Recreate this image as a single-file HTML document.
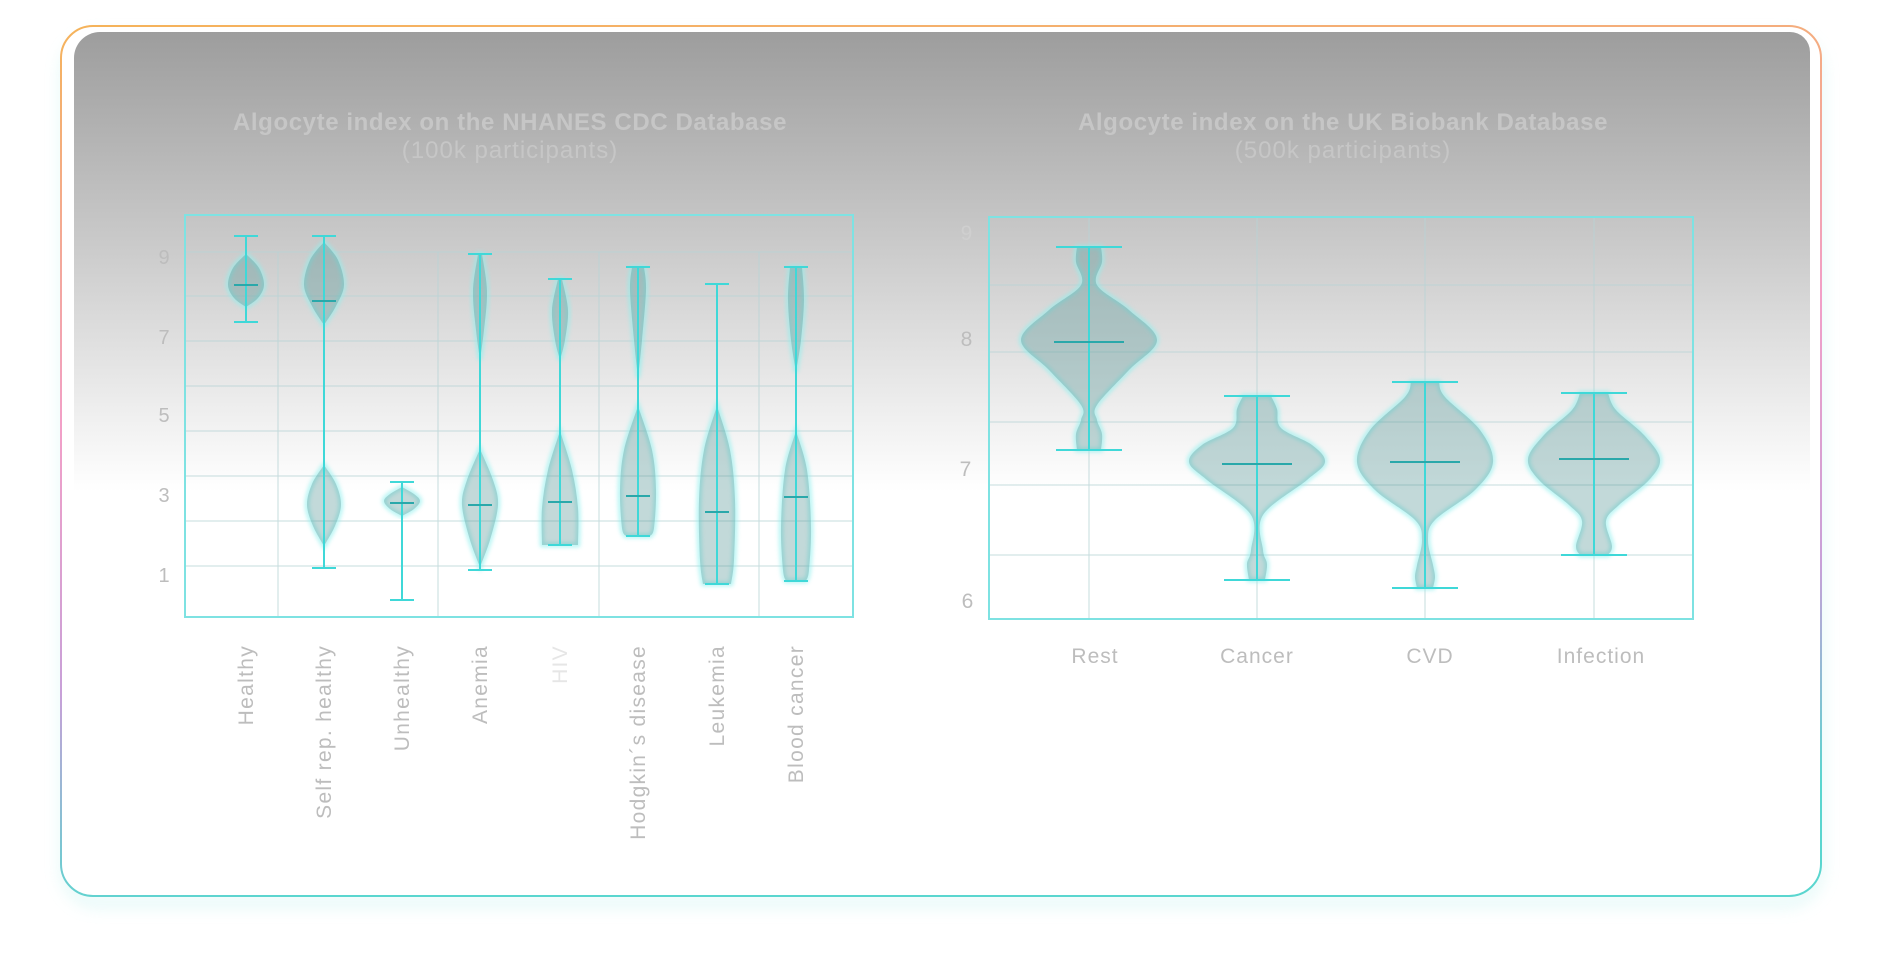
<!DOCTYPE html>
<html><head><meta charset="utf-8">
<style>
html,body{margin:0;padding:0;background:#fff;}
body{width:1884px;height:972px;position:relative;overflow:hidden;font-family:"Liberation Sans",sans-serif;}
svg{position:absolute;left:0;top:0;}
</style></head>
<body>
<svg width="1884" height="972" viewBox="0 0 1884 972" xmlns="http://www.w3.org/2000/svg">
<defs>
<linearGradient id="bg" x1="0" y1="0" x2="0" y2="1">
<stop offset="0" stop-color="#9d9d9d"/><stop offset="0.45" stop-color="#c9c9c9"/><stop offset="0.8" stop-color="#ececec"/><stop offset="1" stop-color="#ffffff"/>
</linearGradient>
<linearGradient id="bd" x1="0" y1="0" x2="0.15" y2="1">
<stop offset="0" stop-color="#f5b35a"/><stop offset="0.45" stop-color="#f2a0c8"/><stop offset="0.75" stop-color="#c8a0d8"/><stop offset="1" stop-color="#5ad6cf"/>
</linearGradient>
<filter id="glow" x="-30%" y="-10%" width="160%" height="120%"><feGaussianBlur stdDeviation="2"/></filter>
<filter id="sh" x="-5%" y="-5%" width="110%" height="115%"><feGaussianBlur stdDeviation="8"/></filter>
</defs>
<rect x="66" y="40" width="1752" height="862" rx="32" fill="none" stroke="#bff2ee" stroke-width="8" filter="url(#sh)" opacity="0.6"/>
<rect x="61" y="26" width="1760" height="870" rx="32" fill="#fff" stroke="url(#bd)" stroke-width="2"/>
<path d="M100,32 H1790 a20,20 0 0 1 20,20 V492 H74 V58 a26,26 0 0 1 26,-26 Z" fill="url(#bg)"/>

<g font-family="Liberation Sans, sans-serif" font-weight="bold" font-size="24" fill="#c6c6c6" text-anchor="middle" letter-spacing="0.6">
<text x="510" y="130">Algocyte index on the NHANES CDC Database</text>
<text x="510" y="158" font-weight="normal" letter-spacing="1">(100k participants)</text>
<text x="1343" y="130">Algocyte index on the UK Biobank Database</text>
<text x="1343" y="158" font-weight="normal" letter-spacing="1">(500k participants)</text>
</g>

<!-- left chart grid -->
<g stroke="#b8d4d6" stroke-width="1" opacity="0.8">
<line x1="185" y1="252" x2="853" y2="252"/><line x1="185" y1="296" x2="853" y2="296"/>
<line x1="185" y1="341" x2="853" y2="341"/><line x1="185" y1="386" x2="853" y2="386"/>
<line x1="185" y1="431" x2="853" y2="431"/><line x1="185" y1="476" x2="853" y2="476"/>
<line x1="185" y1="521" x2="853" y2="521"/><line x1="185" y1="566" x2="853" y2="566"/>
<line x1="278" y1="252" x2="278" y2="617"/><line x1="438" y1="252" x2="438" y2="617"/>
<line x1="599" y1="252" x2="599" y2="617"/><line x1="759" y1="252" x2="759" y2="617"/>
</g>
<rect x="185" y="215" width="668" height="402" fill="none" stroke="#7ee2e2" stroke-width="2"/>
<g font-size="20" fill="#bdbdbd" text-anchor="middle">
<text x="164" y="264">9</text><text x="164" y="344">7</text><text x="164" y="422">5</text><text x="164" y="502">3</text><text x="164" y="582">1</text>
</g>
<g font-size="21" fill="#bdbdbd" text-anchor="end" letter-spacing="1.3">
<text transform="translate(253,645) rotate(-90)">Healthy</text>
<text transform="translate(331,645) rotate(-90)">Self rep. healthy</text>
<text transform="translate(409,645) rotate(-90)">Unhealthy</text>
<text transform="translate(487,645) rotate(-90)">Anemia</text>
<text transform="translate(567,645) rotate(-90)" fill="#e6e6e6">HIV</text>
<text transform="translate(645,645) rotate(-90)">Hodgkin´s disease</text>
<text transform="translate(724,645) rotate(-90)">Leukemia</text>
<text transform="translate(803,645) rotate(-90)">Blood cancer</text>
</g>

<!-- right chart grid -->
<g stroke="#b8d4d6" stroke-width="1" opacity="0.8">
<line x1="989" y1="285" x2="1693" y2="285"/><line x1="989" y1="352" x2="1693" y2="352"/>
<line x1="989" y1="422" x2="1693" y2="422"/><line x1="989" y1="485" x2="1693" y2="485"/>
<line x1="989" y1="555" x2="1693" y2="555"/>
<line x1="1089" y1="217" x2="1089" y2="619"/><line x1="1257" y1="217" x2="1257" y2="619"/>
<line x1="1425" y1="217" x2="1425" y2="619"/><line x1="1594" y1="217" x2="1594" y2="619"/>
</g>
<rect x="989" y="217" width="704" height="402" fill="none" stroke="#7ee2e2" stroke-width="2"/>
<g font-size="21" fill="#bdbdbd" text-anchor="middle" letter-spacing="1">
<text x="967" y="240" fill="#cfcfcf">9</text><text x="967" y="346">8</text><text x="966" y="476">7</text><text x="968" y="608">6</text>
<text x="1095" y="663">Rest</text><text x="1257" y="663">Cancer</text><text x="1430" y="663">CVD</text><text x="1601" y="663">Infection</text>
</g>

<g id="violins"></g>
<g id="lines" stroke="#3fd8d8" stroke-width="2" fill="none"></g>
</svg>
<script>
var NS="http://www.w3.org/2000/svg";
function cr(pts){
 var d="";
 for(var i=0;i<pts.length-1;i++){
  var p0=pts[i-1]||pts[i],p1=pts[i],p2=pts[i+1],p3=pts[i+2]||p2;
  var c1=[p1[0]+(p2[0]-p0[0])/6,p1[1]+(p2[1]-p0[1])/6];
  var c2=[p2[0]-(p3[0]-p1[0])/6,p2[1]-(p3[1]-p1[1])/6];
  d+=" C"+c1[0].toFixed(1)+","+c1[1].toFixed(1)+" "+c2[0].toFixed(1)+","+c2[1].toFixed(1)+" "+p2[0].toFixed(1)+","+p2[1].toFixed(1);
 }
 return d;
}
function violin(cx,prof){
 var r=prof.map(function(p){return [cx+p[1],p[0]];});
 var l=prof.slice().reverse().map(function(p){return [cx-p[1],p[0]];});
 var d="M"+(cx-prof[0][1])+","+prof[0][0]+" L"+r[0][0]+","+r[0][1]+cr(r)+" L"+l[0][0]+","+l[0][1]+cr(l)+" Z";
 var g=document.getElementById("violins");
 var e=document.createElementNS(NS,"path");e.setAttribute("d",d);e.setAttribute("fill","none");e.setAttribute("stroke","#8ff0ee");e.setAttribute("stroke-width","4");e.setAttribute("opacity","0.75");e.setAttribute("filter","url(#glow)");g.appendChild(e);
 var f=document.createElementNS(NS,"path");f.setAttribute("d",d);f.setAttribute("fill","rgba(75,145,145,0.34)");g.appendChild(f);
}
function box(cx,top,bot,med,cw,mw){
 var g=document.getElementById("lines");
 function ln(a,b,c,d2){var e=document.createElementNS(NS,"line");e.setAttribute("x1",a);e.setAttribute("y1",b);e.setAttribute("x2",c);e.setAttribute("y2",d2);g.appendChild(e);}
 ln(cx,top,cx,bot);ln(cx-cw,top,cx+cw,top);ln(cx-cw,bot,cx+cw,bot);
 var e=document.createElementNS(NS,"line");e.setAttribute("x1",cx-mw);e.setAttribute("y1",med);e.setAttribute("x2",cx+mw);e.setAttribute("y2",med);e.setAttribute("stroke","#2aa8aa");g.appendChild(e);
}
violin(246,[[254,0],[268,13],[285,18],[298,12],[307,0]]); box(246,236,322,285,12,12);
violin(324,[[242,0],[260,14],[285,20],[306,12],[325,0]]);
violin(324,[[465,0],[484,12],[505,17],[526,11],[546,0]]); box(324,236,568,301,12,12);
violin(402,[[487,0],[494,12],[501,18],[509,12],[516,0]]); box(402,482,600,503,12,12);
violin(480,[[254,2],[291,7],[330,4],[360,0]]);
violin(480,[[449,0],[480,13],[505,18],[540,10],[567,0]]); box(480,254,570,505,12,12);
violin(560,[[279,2],[310,8],[340,5],[360,0]]);
violin(560,[[431,0],[470,12],[508,18],[545,18]]); box(560,279,545,502,12,12);
violin(638,[[267,6],[290,8],[340,4],[378,0]]);
violin(638,[[406,0],[450,14],[490,18],[528,16],[536,12]]); box(638,267,536,496,12,12);
violin(717,[[406,0],[450,13],[500,18],[560,17],[584,14]]); box(717,284,584,512,12,12);
violin(796,[[267,6],[300,8],[340,5],[372,0]]);
violin(796,[[431,0],[470,11],[527,15],[570,13],[581,10]]); box(796,267,581,497,12,12);
violin(1089,[[247,12],[262,13],[285,8],[310,40],[340,68],[370,40],[405,8],[420,8],[434,13],[450,12]]); box(1089,247,450,342,33,35);
violin(1257,[[396,14],[409,20],[428,24],[445,55],[462,68],[480,50],[515,6],[550,6],[564,10],[580,8]]); box(1257,396,580,464,33,35);
violin(1425,[[382,14],[397,20],[430,55],[462,68],[490,50],[520,10],[540,3],[565,8],[577,10],[588,8]]); box(1425,382,588,462,33,35);
violin(1594,[[393,14],[410,22],[435,50],[459,66],[480,55],[505,25],[521,12],[546,18],[555,14]]); box(1594,393,555,459,33,35);
</script>
</body></html>
